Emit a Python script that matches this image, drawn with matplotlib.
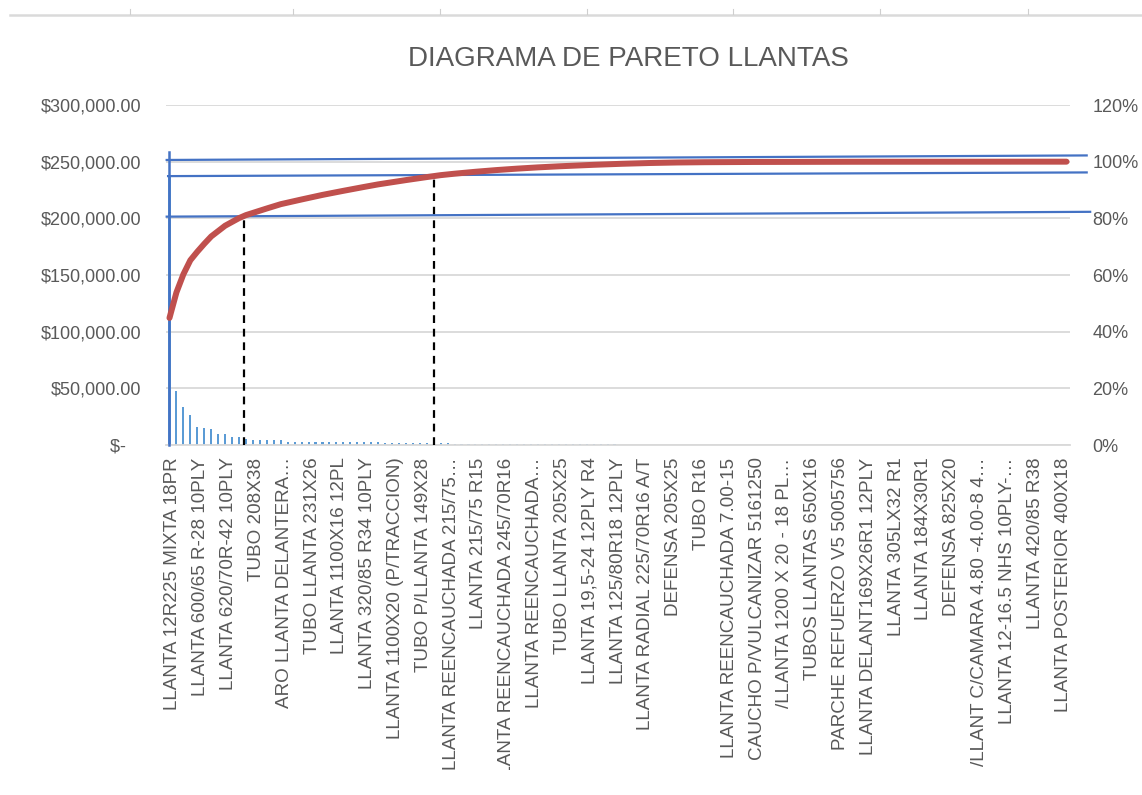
import matplotlib
matplotlib.use("Agg")
import matplotlib.pyplot as plt
import numpy as np
from matplotlib.lines import Line2D
from matplotlib.transforms import Bbox, TransformedBbox, ScaledTranslation

plt.rcParams['font.family'] = ['Liberation Sans', 'DejaVu Sans']

# ---------------- data ----------------
title = "DIAGRAMA DE PARETO LLANTAS"

costs = [
    237000, 47600, 33800, 26200, 15900, 14700, 13800, 10000, 10000, 7100,
    7100, 5600, 4200, 4100, 4100, 4000, 4000, 3000, 2900, 2900,
    2900, 2800, 2800, 2600, 2500, 2500, 2500, 2400, 2400, 2400,
    2300, 2050, 2050, 1950, 1950, 1950, 1850, 1850, 1850, 1750,
    1400, 1300, 1250, 1200, 1150, 1100, 1050, 1000, 950, 900,
    860, 820, 780, 740, 700, 660, 620, 600, 580, 560,
    540, 520, 500, 480, 460, 440, 410, 380, 350, 320,
    290, 260, 230, 200, 170, 140, 120, 100, 90, 80,
    70, 60, 55, 50, 45, 40, 38, 35, 32, 30,
    28, 26, 24, 22, 20, 19, 18, 17, 16, 15,
    14, 13, 12, 11, 10, 10, 9, 9, 8, 8,
    7, 7, 6, 6, 5, 5, 5, 4, 4, 4,
    3, 3, 3, 3, 2, 2, 2, 2, 1, 1,
]

tick_step = 4
tick_labels = [
    "LLANTA 12R225 MIXTA 18PR",
    "LLANTA 600/65 R-28 10PLY",
    "LLANTA 620/70R-42 10PLY",
    "TUBO 208X38",
    "ARO LLANTA DELANTERA\u2026",
    "TUBO LLANTA 231X26",
    "LLANTA 1100X16 12PL",
    "LLANTA 320/85 R34 10PLY",
    "LLANTA 1100X20 (P/TRACCION)",
    "TUBO P/LLANTA 149X28",
    "LLANTA REENCAUCHADA 215/75\u2026",
    "LLANTA 215/75 R15",
    "LLANTA REENCAUCHADA 245/70R16",
    "LLANTA REENCAUCHADA\u2026",
    "TUBO LLANTA 205X25",
    "LLANTA 19,5-24 12PLY R4",
    "LLANTA 125/80R18 12PLY",
    "LLANTA RADIAL 225/70R16 A/T",
    "DEFENSA 205X25",
    "TUBO R16",
    "LLANTA REENCAUCHADA 7.00-15",
    "CAUCHO P/VULCANIZAR 5161250",
    "/LLANTA 1200 X 20 - 18 PL\u2026",
    "TUBOS LLANTAS 650X16",
    "PARCHE REFUERZO V5 5005756",
    "LLANTA DELANT169X26R1 12PLY",
    "LLANTA 305LX32 R1",
    "LLANTA 184X30R1",
    "DEFENSA 825X20",
    "/LLANT C/CAMARA 4.80 -4.00-8 4\u2026",
    "LLANTA 12-16.5 NHS 10PLY-\u2026",
    "LLANTA 420/85 R38",
    "LLANTA POSTERIOR 400X18",
]

left_ticks = [0, 50000, 100000, 150000, 200000, 250000, 300000]
left_tick_labels = ["$-   ", "$50,000.00", "$100,000.00", "$150,000.00",
                    "$200,000.00", "$250,000.00", "$300,000.00"]
right_ticks = [0, 0.2, 0.4, 0.6, 0.8, 1.0, 1.2]
right_tick_labels = ["0%", "20%", "40%", "60%", "80%", "100%", "120%"]

# dashed cut-off markers: (category position, cumulative share)
cutoff_x = [10.7, 38.0]
cutoff_y = [0.808, 0.95]

# hand-drawn blue reference lines (category start, share start, category end, share end)
ref_lines = [
    (-0.4, 1.006, 131.9, 1.022),
    (-0.2, 0.949, 131.9, 0.962),
    (-0.4, 0.806, 132.4, 0.823),
]
ref_vertical = (-0.07, 0.0, 1.035)

# ---------------- drawing ----------------
W, H = 1142, 795
fig = plt.figure(figsize=(W / 100, H / 100), dpi=100)
fig.patch.set_facecolor("white")

L, R, T, B = 166, 1070, 105, 445
ax = fig.add_axes([L / W, 1 - B / H, (R - L) / W, (B - T) / H])

N = len(costs)
x = np.arange(N)
vals = np.array(costs, dtype=float)
cum = np.cumsum(vals) / vals.sum()

text_col = "#595959"
grid_col = "#D9D9D9"

ax.bar(x, vals, width=0.3, color="#5B9BD5", zorder=2)
ax.set_xlim(-0.5, N - 0.5)
ax.set_ylim(0, 300000)
ax.set_yticks(left_ticks, left_tick_labels)
ax.yaxis.grid(True, color=grid_col, lw=1.3, zorder=0)
ax.set_axisbelow(True)
for s in ["top", "left", "right"]:
    ax.spines[s].set_visible(False)
ax.spines["bottom"].set_color(grid_col)
ax.spines["bottom"].set_linewidth(1.3)
ax.tick_params(axis="y", length=0, pad=18, labelsize=13, labelcolor=text_col)

tick_pos = list(range(0, N, tick_step))[:len(tick_labels)]
ax.set_xticks(tick_pos, tick_labels, rotation=90)
ax.tick_params(axis="x", length=0, pad=9, labelsize=13.6, labelcolor=text_col)

ax2 = ax.twinx()
ax2.set_ylim(0, 1.2)
ax2.set_yticks(right_ticks, right_tick_labels)
for s in ax2.spines.values():
    s.set_visible(False)
ax2.tick_params(axis="y", length=0, pad=16, labelsize=13, labelcolor=text_col)

# dashed cut-off lines
for cx, cy in zip(cutoff_x, cutoff_y):
    ax2.plot([cx, cx], [0, cy], color="black", lw=1.6, dashes=(3.5, 2.6), zorder=3)

# blue reference lines
for x0, y0, x1, y1 in ref_lines:
    ax2.add_line(Line2D([x0, x1], [y0, y1], color="#4472C4", lw=1.6, clip_on=False, zorder=4))
vx, vy0, vy1 = ref_vertical
ax2.add_line(Line2D([vx, vx], [vy0, vy1], color="#4472C4", lw=1.8, clip_on=False, zorder=4))

# cumulative line
ax2.plot(x, cum, color="#C0504D", lw=4.3, solid_capstyle="round", zorder=5)

# title
fig.text(0.55, 1 - 59 / H, title, ha="center", va="center", fontsize=20, color=text_col)

# spreadsheet ruler line at top
fig.add_artist(Line2D([10 / W, 1.0], [1 - 14.5 / H] * 2, transform=fig.transFigure,
                      color="#DADADA", lw=1.8))
for tx in [130, 293, 440, 587, 733, 880, 1028]:
    fig.add_artist(Line2D([tx / W] * 2, [1 - 14 / H, 1 - 9 / H], transform=fig.transFigure,
                          color="#CFCFCF", lw=0.8))

# shift category labels slightly right (caps sit left of the rotated text box)
# and clip them at the chart's bottom edge
shift = ScaledTranslation(3.5 / 100, 0, fig.dpi_scale_trans)
clip = TransformedBbox(Bbox([[0, 25 / H], [1, 1]]), fig.transFigure)
for lbl in ax.get_xticklabels():
    lbl.set_transform(lbl.get_transform() + shift)
    lbl.set_clip_on(True)
    lbl.set_clip_box(clip)

fig.savefig("out.png", dpi=100)
